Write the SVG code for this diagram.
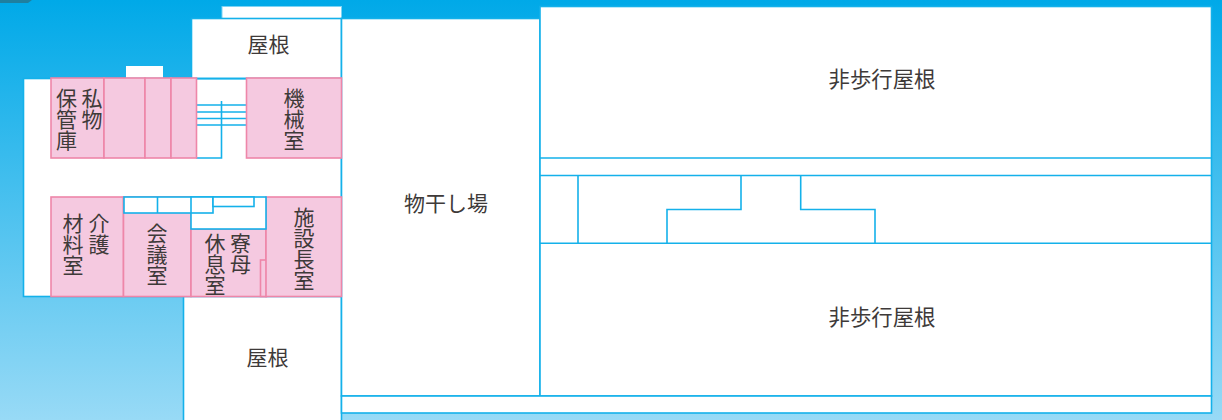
<svg xmlns="http://www.w3.org/2000/svg" width="1222" height="420" viewBox="0 0 1222 420">
<defs>
<linearGradient id="bg" x1="0" y1="0" x2="0" y2="1"><stop offset="0" stop-color="#00a9e8"/><stop offset="1" stop-color="#98daf6"/></linearGradient>
</defs>
<style>
.w{fill:#fff;stroke:#14b1ea;stroke-width:1.6}
.p{fill:#f5c9e0;stroke:#ee86a9;stroke-width:1.6}
.l{fill:none;stroke:#14b1ea;stroke-width:1.6}
text{font-family:"Noto Sans CJK JP","Noto Sans CJK SC",sans-serif;font-size:21px;font-weight:400;fill:#3e3a39;text-anchor:middle}
text.h{font-size:21.400px}
text.v{writing-mode:vertical-rl;text-anchor:start}
</style>
<rect width="1222" height="420" fill="url(#bg)"/>
<path d="M0 0H32L28 3H0Z" fill="#1f7f9f"/>
<g id="building">
<rect x="222" y="6.500" width="119.500" height="12" fill="#fff" stroke="#7fd3f3" stroke-width="1"/>
<rect x="126" y="66" width="37" height="12" fill="#fff"/>
<rect class="w" x="23.500" y="78.500" width="318" height="218"/>
</g>
<g id="roof-top"><rect class="w" x="191.500" y="18.500" width="150" height="60"/><text x="268.500" y="52">屋根</text></g>
<g id="roof-bottom"><rect class="w" x="183.500" y="296.500" width="158" height="130"/><text x="267.500" y="365">屋根</text></g>
<g id="drying"><rect class="w" x="341.500" y="18.500" width="198.500" height="377.500"/><text x="446" y="211">物干し場</text></g>
<g id="roof-right-area"><rect class="w" x="540" y="6.500" width="671.500" height="389.500"/></g>
<g id="strip"><rect class="w" x="341.500" y="396" width="870" height="17"/></g>
<g id="roof-upper"><text class="h" x="882" y="87">非歩行屋根</text></g>
<g id="roof-lower"><text class="h" x="882" y="325">非歩行屋根</text></g>
<g id="connectors">
<path class="l" d="M540 158H1211.500M540 175.500H1211.500M540 243.300H1211.500M578 175.500V243.300M741 175.500V209.500H667V243.300M800.700 175.500V209.500H875V243.300"/>
<path class="l" d="M196 78.500H246.500M196 105H246.500M196 112H246.500M196 118.500H246.500M196 125H246.500M221.500 101V158H196"/>
</g>
<g id="private-storage"><rect class="p" x="51" y="78" width="53" height="80"/>
<text class="v" x="92" y="88">私物</text><text class="v" x="66.500" y="88">保管庫</text></g>
<g id="room-2"><rect class="p" x="104" y="78" width="41" height="80"/></g>
<g id="room-3"><rect class="p" x="145" y="78" width="26" height="80"/></g>
<g id="room-4"><rect class="p" x="171" y="78" width="25.500" height="80"/></g>
<g id="machine-room"><rect class="p" x="246.500" y="78" width="95" height="80"/>
<text class="v" x="294" y="87.500">機械室</text></g>
<g id="care-storage"><rect class="p" x="51" y="197" width="72.500" height="99.500"/>
<text class="v" x="99" y="213">介護</text><text class="v" x="73" y="213">材料室</text></g>
<g id="meeting-room"><rect class="p" x="123.500" y="197" width="67.500" height="99.500"/>
<text class="v" x="157" y="223">会議室</text></g>
<g id="matron-room"><rect class="p" x="191" y="229" width="75" height="67.500"/>
<rect class="p" x="260.500" y="260" width="6" height="36.500"/>
<text class="v" x="240.500" y="233">寮母</text><text class="v" x="215" y="233">休息室</text></g>
<g id="director-room"><rect class="p" x="266" y="197" width="75.500" height="99.500"/>
<text class="v" x="304" y="207">施設長室</text></g>
<g id="stairs-lower">
<rect class="w" x="191" y="197" width="75" height="32"/>
<rect class="w" x="124" y="197" width="89" height="16"/>
<path class="l" d="M157.500 197V213M191 197V213"/>
<rect class="w" x="213" y="197" width="41" height="9.500"/>
</g>
</svg>
